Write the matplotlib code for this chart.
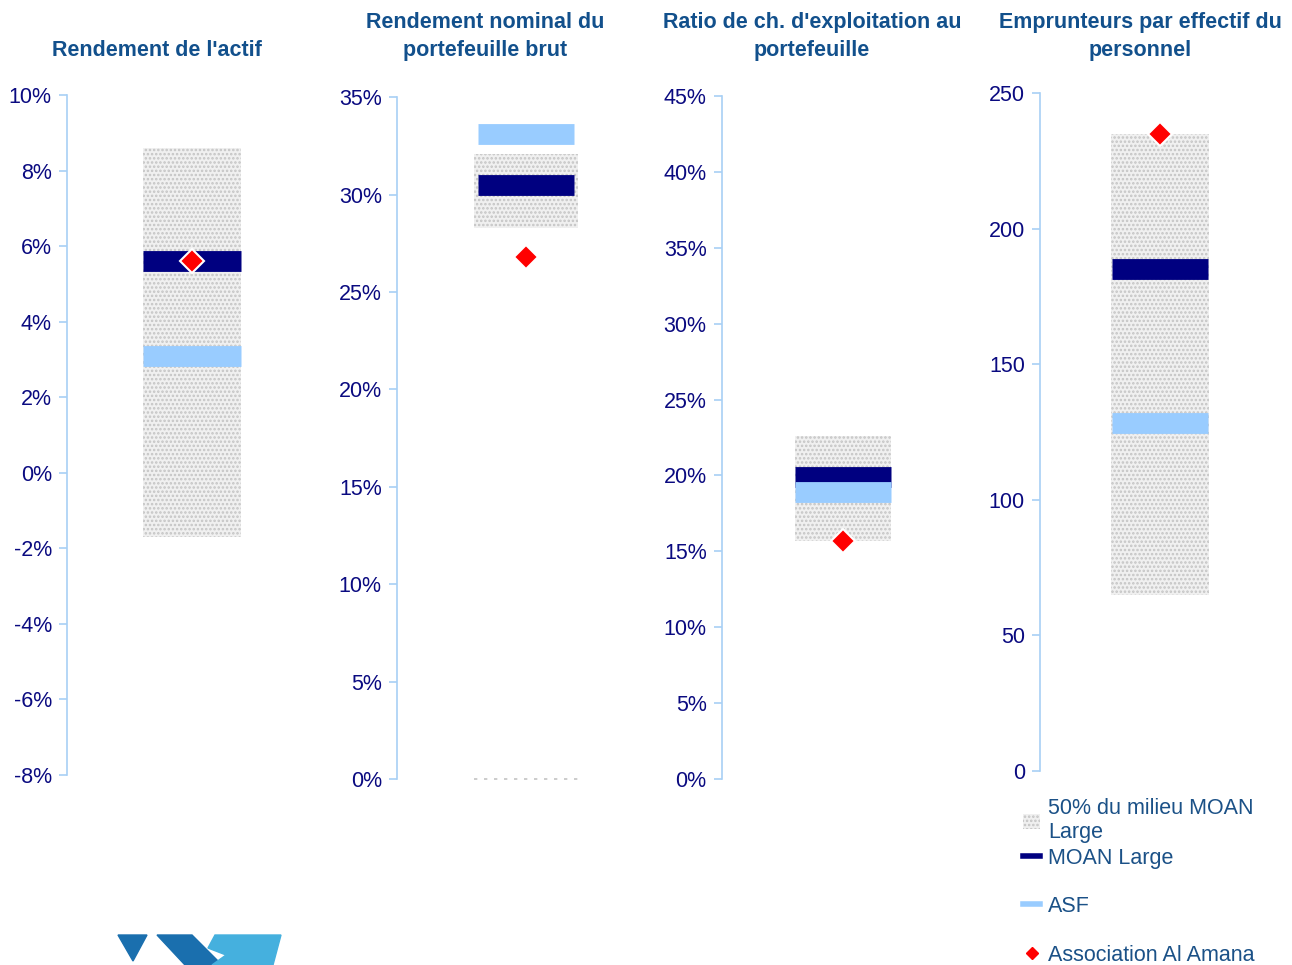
import matplotlib.pyplot as plt
from matplotlib.patches import Patch, Polygon
from matplotlib.lines import Line2D

plt.rcParams.update({
    'font.family': ['Liberation Sans', 'DejaVu Sans'],
    'font.size': 15.5,
    'hatch.linewidth': 1.2,
})

TITLE_C = '#12508c'
TICK_C = '#0a0a80'
LEG_C = '#1b5187'
AXIS_C = '#a8d0f5'
BOX_FACE = '#f0f0f0'
BOX_DOTS = '#c4c4c4'
MOAN_C = '#000080'
ASF_C = '#99ccff'
AMANA_C = '#ff0000'

# ── data ─────
titles = ["Rendement de l'actif",
          "Rendement nominal du\nportefeuille brut",
          "Ratio de ch. d'exploitation au\nportefeuille",
          "Emprunteurs par effectif du\npersonnel"]
q_low = [-1.7, 28.3, 15.7, 65.0]
q_high = [8.6, 32.1, 22.6, 235.0]
moan = [5.6, 30.5, 19.9, 185.0]
asf = [3.1, 33.1, 18.9, 128.3]
amana = [5.6, 26.8, 15.7, 235.0]
y_min = [-8, 0, 0, 0]
y_max = [10, 35, 45, 250]
y_step = [2, 5, 5, 50]
pct = [True, True, True, False]

# axes placement (figure fraction) and title centres
axes_rect = [[0.0519, 0.1969, 0.1935, 0.7047],
             [0.3073, 0.1927, 0.1997, 0.7067],
             [0.5588, 0.1927, 0.1873, 0.7078],
             [0.8050, 0.2010, 0.1858, 0.7026]]
title_x = [157, 485, 812, 1140]
box_w = [0.784, 0.80, 0.79, 0.81]
band_w = [0.78, 0.745, 0.79, 0.80]

fig = plt.figure(figsize=(12.92, 9.65), dpi=100, facecolor='white')

for i in range(4):
    ax = fig.add_axes(axes_rect[i])
    ax.set_xlim(0, 2)
    ax.set_ylim(y_min[i], y_max[i])

    ax.bar(1, q_high[i] - q_low[i], bottom=q_low[i], width=box_w[i],
           color=BOX_FACE, hatch='....', edgecolor=BOX_DOTS, linewidth=0, zorder=1)
    if i == 1:
        ax.hlines(0, 1 - box_w[i] / 2, 1 + box_w[i] / 2, colors='#c4c4c4',
                  linestyles=(0, (2, 4)), linewidth=1.2, zorder=1, clip_on=False)
    ax.hlines(moan[i], 1 - band_w[i] / 2, 1 + band_w[i] / 2, colors=MOAN_C,
              linewidth=15, capstyle='butt', zorder=2)
    ax.hlines(asf[i], 1 - band_w[i] / 2, 1 + band_w[i] / 2, colors=ASF_C,
              linewidth=15, capstyle='butt', zorder=3)
    ax.plot(1, amana[i], marker='D', markersize=12, color=AMANA_C,
            markeredgecolor='white', markeredgewidth=1.5, zorder=4, clip_on=False)

    ticks = list(range(y_min[i], y_max[i] + 1, y_step[i]))
    ax.set_yticks(ticks)
    ax.set_yticklabels([f'{t}%' if pct[i] else str(t) for t in ticks])
    ax.set_xticks([])
    for s in ['top', 'right', 'bottom']:
        ax.spines[s].set_visible(False)
    ax.spines['left'].set_color(AXIS_C)
    ax.spines['left'].set_linewidth(1.2)
    ax.tick_params(axis='y', colors=AXIS_C, labelcolor=TICK_C, length=6,
                   width=1.2, direction='out', labelsize=15.5, pad=5)

    fig.text(title_x[i] / 1292, 1 - 61 / 965, titles[i], ha='center', va='bottom',
             color=TITLE_C, fontsize=15.5, fontweight='bold', linespacing=1.42)

# legend: two blocks to keep the uneven spacing of the original
h_box = Patch(facecolor=BOX_FACE, hatch='....', edgecolor=BOX_DOTS, linewidth=0)
h_moan = Line2D([], [], color=MOAN_C, linewidth=4)
h_asf = Line2D([], [], color=ASF_C, linewidth=4)
h_amana = Line2D([], [], color=AMANA_C, marker='D', markersize=6, linestyle='none')

leg1 = fig.legend([h_box, h_moan], ['50% du milieu MOAN\nLarge', 'MOAN Large'],
                  loc='upper left', bbox_to_anchor=(1023 / 1292, 1 - 798 / 965),
                  frameon=False, handlelength=0.8, handleheight=0.7, handletextpad=0.35,
                  labelspacing=0.2, fontsize=15.5, borderaxespad=0, borderpad=0)
leg2 = fig.legend([h_asf, h_amana], ['ASF', 'Association Al Amana'],
                  loc='upper left', bbox_to_anchor=(1023 / 1292, 1 - 896 / 965),
                  frameon=False, handlelength=0.8, handletextpad=0.35,
                  labelspacing=1.3, fontsize=15.5, borderaxespad=0, borderpad=0)
for leg, ls in ((leg1, 1.2), (leg2, 1.05)):
    for t in leg.get_texts():
        t.set_color(LEG_C)
        t.set_linespacing(ls)

# cropped logo at the bottom left
def px(pts):
    return [(x / 1292, 1 - y / 965) for x, y in pts]

fig.add_artist(Polygon(px([(118, 935), (147, 935), (133, 961)]),
                       closed=True, color='#1a6fae', transform=fig.transFigure))
fig.add_artist(Polygon(px([(157, 935), (192, 935), (222, 965), (185, 965)]),
                       closed=True, color='#1a6fae', transform=fig.transFigure))
fig.add_artist(Polygon(px([(215, 935), (281, 935), (273, 965), (212, 965), (226, 955), (208, 948)]),
                       closed=True, color='#45b0de', transform=fig.transFigure))

fig.savefig('out.png', dpi=100, facecolor='white')
